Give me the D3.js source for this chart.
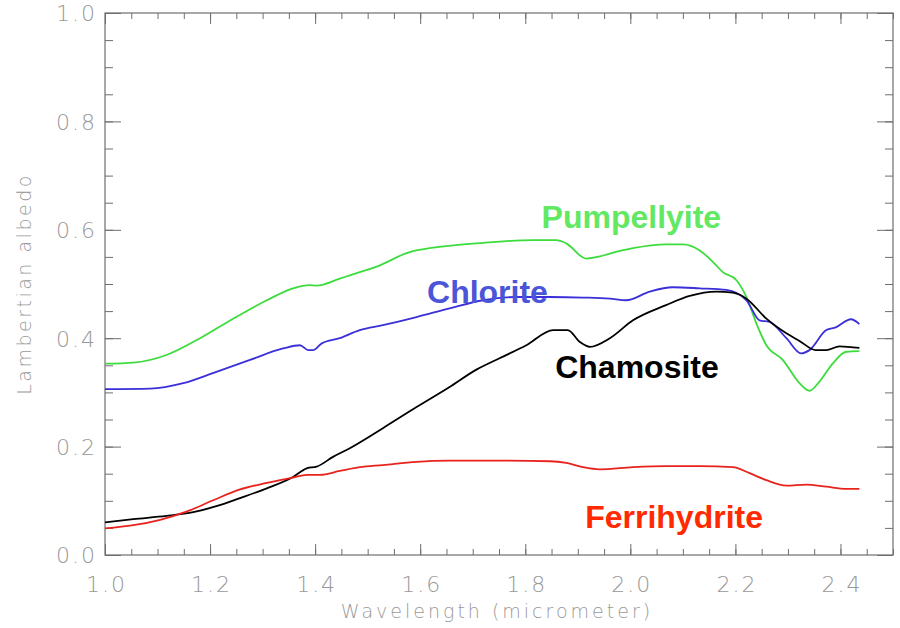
<!DOCTYPE html>
<html>
<head>
<meta charset="utf-8">
<script src="https://cdn.jsdelivr.net/npm/d3@7"></script>
<style>
  html, body { margin: 0; padding: 0; background: #fff; }
  svg { display: block; }
  text { -webkit-font-smoothing: antialiased; }
</style>
</head>
<body>
<svg id="chart" width="900" height="628"></svg>
<script>
// ---- data ----
const xTicks = [1.0, 1.2, 1.4, 1.6, 1.8, 2.0, 2.2, 2.4];
const yTicks = [0.0, 0.2, 0.4, 0.6, 0.8, 1.0];
const xTickLabels = ["1.0", "1.2", "1.4", "1.6", "1.8", "2.0", "2.2", "2.4"];
const yTickLabels = ["0.0", "0.2", "0.4", "0.6", "0.8", "1.0"];

const pumpW = [1.000,1.054,1.117,1.181,1.244,1.308,1.358,1.390,1.403,1.447,1.466,1.517,1.580,1.625,1.720,1.815,1.859,1.878,1.916,1.942,1.961,2.005,2.068,2.100,2.132,2.157,2.176,2.202,2.221,2.240,2.259,2.290,2.322,2.341,2.360,2.385,2.411,2.436];
const pumpV = [0.353,0.355,0.369,0.400,0.436,0.470,0.492,0.498,0.497,0.510,0.516,0.532,0.559,0.567,0.576,0.581,0.581,0.575,0.547,0.551,0.556,0.566,0.573,0.573,0.562,0.541,0.522,0.507,0.476,0.427,0.387,0.360,0.317,0.303,0.320,0.353,0.375,0.376];

const chlW = [1.000,1.086,1.149,1.212,1.276,1.339,1.371,1.387,1.396,1.412,1.447,1.485,1.529,1.593,1.656,1.720,1.783,1.847,1.910,1.961,1.992,2.037,2.081,2.132,2.183,2.221,2.246,2.265,2.297,2.325,2.341,2.373,2.391,2.420,2.436];
const chlV = [0.306,0.307,0.317,0.338,0.360,0.381,0.387,0.378,0.378,0.390,0.400,0.415,0.424,0.439,0.455,0.470,0.476,0.476,0.475,0.473,0.470,0.486,0.494,0.492,0.489,0.470,0.433,0.430,0.400,0.372,0.378,0.415,0.420,0.435,0.426];

const chamW = [1.000,1.054,1.117,1.168,1.212,1.257,1.308,1.358,1.384,1.403,1.434,1.466,1.529,1.593,1.656,1.707,1.751,1.802,1.853,1.881,1.904,1.923,1.961,2.005,2.068,2.113,2.164,2.195,2.221,2.259,2.297,2.322,2.353,2.373,2.398,2.436];
const chamV = [0.060,0.066,0.072,0.079,0.090,0.105,0.123,0.144,0.160,0.163,0.181,0.197,0.234,0.273,0.310,0.342,0.363,0.387,0.415,0.415,0.393,0.384,0.400,0.433,0.461,0.478,0.486,0.484,0.473,0.436,0.409,0.395,0.378,0.378,0.385,0.382];

const ferW = [1.000,1.054,1.105,1.155,1.206,1.257,1.308,1.358,1.384,1.409,1.447,1.485,1.529,1.593,1.656,1.751,1.847,1.878,1.910,1.942,2.005,2.068,2.132,2.195,2.227,2.259,2.297,2.335,2.373,2.411,2.436];
const ferV = [0.049,0.055,0.065,0.080,0.101,0.121,0.133,0.143,0.148,0.148,0.155,0.162,0.166,0.172,0.174,0.174,0.173,0.170,0.162,0.158,0.162,0.164,0.164,0.162,0.151,0.138,0.128,0.130,0.126,0.122,0.122];

const seriesNames = ["Pumpellyite", "Chlorite", "Chamosite", "Ferrihydrite"];
const labelX = [1.831, 1.613, 1.857, 1.914];   // left edge of label (wavelength)
const labelY = [0.603, 0.465, 0.326, 0.050];   // baseline of label (albedo)

// ---- layout ----
const svg = d3.select("#chart");
const L = 105, R = 893, T = 13, B = 555;
const x = d3.scaleLinear().domain([1.0, 2.5]).range([L, R]);
const y = d3.scaleLinear().domain([0.0, 1.0]).range([B, T]);

const axisColor = "#6e6e6e";
const tickTextColor = "#999999";
const lightFont = "'DejaVu Sans', 'Liberation Sans', sans-serif";

const xMinor = d3.range(1.0, 2.5001, 0.05).map(v => +v.toFixed(2));
const yMinor = d3.range(0.0, 1.0001, 0.05).map(v => +v.toFixed(2));

function styleAxis(g) {
  g.select(".domain").remove();
  g.selectAll(".tick line").attr("stroke", axisColor).attr("stroke-width", 1);
}

// minor ticks
svg.append("g").attr("transform", `translate(0,${B})`)
  .call(d3.axisBottom(x).tickValues(xMinor).tickSize(-6).tickFormat(""))
  .call(styleAxis);
svg.append("g").attr("transform", `translate(0,${T})`)
  .call(d3.axisTop(x).tickValues(xMinor).tickSize(-6).tickFormat(""))
  .call(styleAxis);
svg.append("g").attr("transform", `translate(${L},0)`)
  .call(d3.axisLeft(y).tickValues(yMinor).tickSize(-8).tickFormat(""))
  .call(styleAxis);
svg.append("g").attr("transform", `translate(${R},0)`)
  .call(d3.axisRight(y).tickValues(yMinor).tickSize(-8).tickFormat(""))
  .call(styleAxis);

// major ticks with labels
const gx = svg.append("g").attr("transform", `translate(0,${B})`)
  .call(d3.axisBottom(x).tickValues(xTicks).tickSize(-11).tickPadding(0)
        .tickFormat((d, i) => xTickLabels[i]))
  .call(styleAxis);
gx.selectAll(".tick text")
  .attr("y", 37).attr("dy", 0)
  .attr("fill", tickTextColor)
  .style("font-family", lightFont).style("font-weight", 200)
  .style("font-size", "22px").style("letter-spacing", "2px")
  .attr("dx", 1);

svg.append("g").attr("transform", `translate(0,${T})`)
  .call(d3.axisTop(x).tickValues(xTicks).tickSize(-11).tickFormat(""))
  .call(styleAxis);

const gy = svg.append("g").attr("transform", `translate(${L},0)`)
  .call(d3.axisLeft(y).tickValues(yTicks).tickSize(-16).tickPadding(0)
        .tickFormat((d, i) => yTickLabels[i]))
  .call(styleAxis);
gy.selectAll(".tick text")
  .attr("x", -8).attr("dy", "0.36em")
  .attr("fill", tickTextColor)
  .style("font-family", lightFont).style("font-weight", 200)
  .style("font-size", "22px").style("letter-spacing", "2px");

svg.append("g").attr("transform", `translate(${R},0)`)
  .call(d3.axisRight(y).tickValues(yTicks).tickSize(-16).tickFormat(""))
  .call(styleAxis);

// frame
svg.append("rect")
  .attr("x", L).attr("y", T).attr("width", R - L).attr("height", B - T)
  .attr("fill", "none").attr("stroke", axisColor).attr("stroke-width", 1.2);

// axis titles
svg.append("text")
  .attr("x", (L + R) / 2 - 2).attr("y", 618)
  .attr("text-anchor", "middle")
  .attr("fill", tickTextColor)
  .style("font-family", lightFont).style("font-weight", 200)
  .style("font-size", "19px").style("letter-spacing", "3px")
  .text("Wavelength (micrometer)");

svg.append("text")
  .attr("transform", `translate(31,${(T + B) / 2}) rotate(-90)`)
  .attr("text-anchor", "middle")
  .attr("fill", tickTextColor)
  .style("font-family", lightFont).style("font-weight", 200)
  .style("font-size", "19px").style("letter-spacing", "2.5px")
  .text("Lambertian albedo");

// lines
const seriesW = [pumpW, chlW, chamW, ferW];
const seriesV = [pumpV, chlV, chamV, ferV];
const lineColors = ["#3ddc3d", "#3a2fd8", "#000000", "#e8231e"];
const labelColors = ["#62e862", "#4a55d8", "#000000", "#ff2a00"];

const line = d3.line()
  .x(d => x(d[0])).y(d => y(d[1]))
  .curve(d3.curveMonotoneX);

seriesW.forEach((ws, k) => {
  const pts = ws.map((w, i) => [w, seriesV[k][i]]);
  svg.append("path")
    .datum(pts)
    .attr("d", line)
    .attr("fill", "none")
    .attr("stroke", lineColors[k])
    .attr("stroke-width", 1.8)
    .attr("stroke-linejoin", "round");
});

// series labels
seriesNames.forEach((name, k) => {
  svg.append("text")
    .attr("x", x(labelX[k])).attr("y", y(labelY[k]))
    .attr("fill", labelColors[k])
    .style("font-family", "'Liberation Sans', Arial, sans-serif")
    .style("font-weight", "bold")
    .style("font-size", "32px")
    .text(name);
});
</script>
</body>
</html>
